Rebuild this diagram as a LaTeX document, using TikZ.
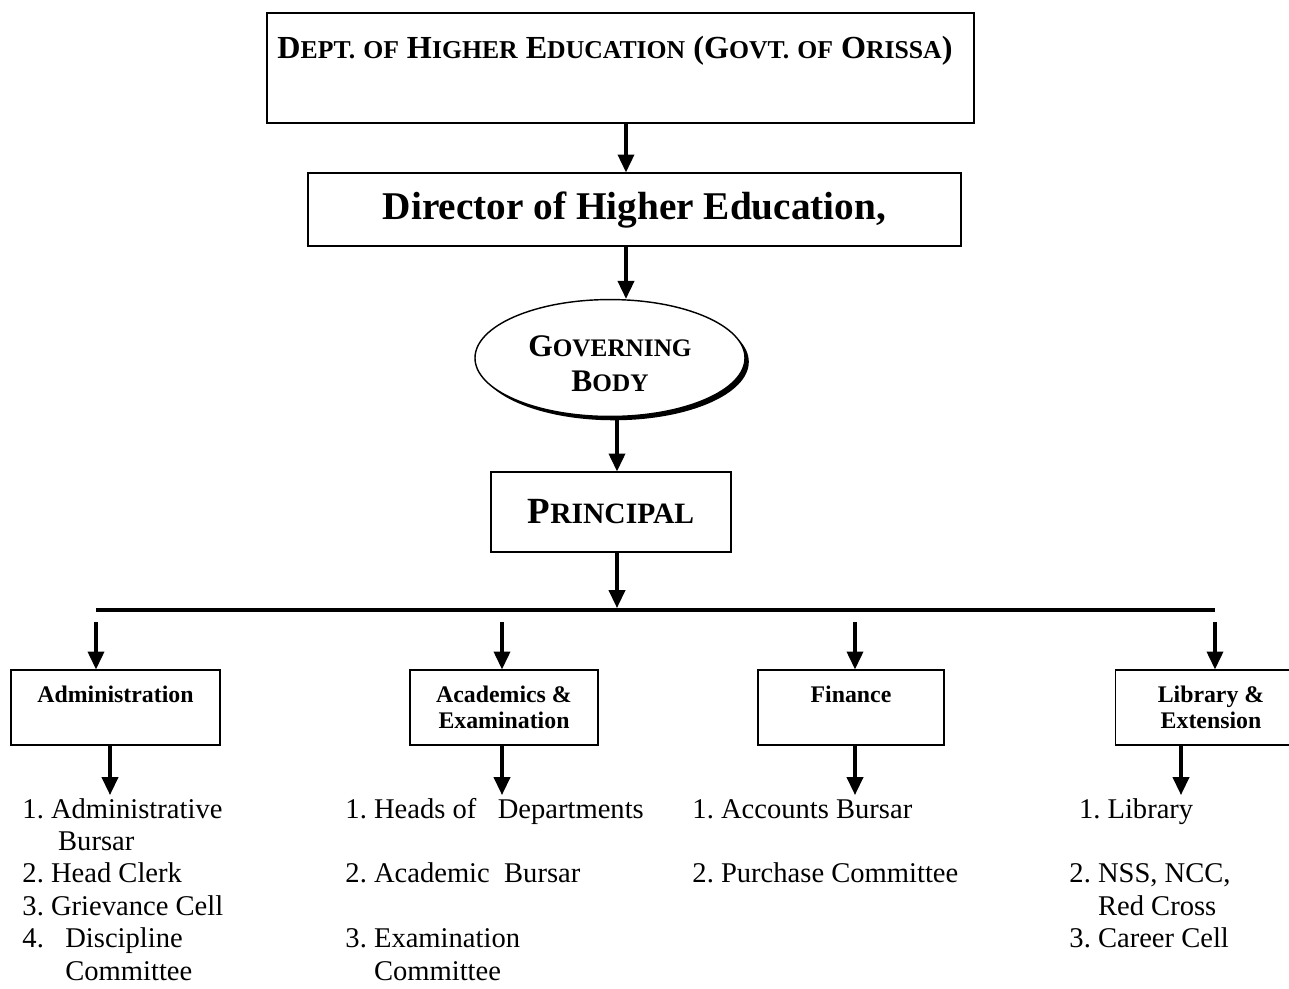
\documentclass[tikz,border=0pt]{standalone}
\usepackage{fontspec}
\setmainfont{Liberation Serif}
\usetikzlibrary{arrows.meta,shapes.geometric,shadows}
\frenchspacing

% small capitals: lower case letters set in a smaller size
\newcommand\lc[1]{{\fontsize{\lcsize}{\lcsize}\selectfont #1}}
\def\lcsize{10}

\begin{document}
\begin{tikzpicture}[x=0.42pt,y=-0.42pt,
    box/.style={draw,line width=0.5pt,inner sep=0pt},
    unit/.style={box,minimum height=31.5pt,align=center,
      font=\bfseries\fontsize{10}{11.2}\selectfont},
    arr/.style={line width=1.3pt,-{Triangle[length=7.5pt,width=6.8pt]}},
    duties/.style={anchor=north west,inner sep=0pt,align=left,
      font=\fontsize{12}{13.6}\selectfont}]
  \useasboundingbox (0,0) rectangle (1289,989);
  \clip (0,0) rectangle (1289,989);

  \node[box,line width=0.8pt,minimum width=296.9pt,minimum height=46.2pt]
    (dept) at (620.5,68) {};
  \node[anchor=base west,inner sep=0pt,
    font=\bfseries\fontsize{13.5}{16}\selectfont\def\lcsize{10.8}]
    (depttext) at (277,58)
    {D\lc{EPT.} \lc{OF} H\lc{IGHER} E\lc{DUCATION} (G\lc{OVT.} \lc{OF} O\lc{RISSA})};

  \node[box,minimum width=274.3pt,minimum height=30.7pt,
    font=\bfseries\fontsize{16.5}{19}\selectfont]
    (dir) at (634.5,209.5) {Director of Higher Education,};

  \node[ellipse,draw,line width=0.6pt,fill=white,inner sep=0pt,
    minimum width=113.4pt,minimum height=49.1pt,
    drop shadow={shadow xshift=1.6pt,shadow yshift=-1.6pt,opacity=1,fill=black},
    align=center,font=\bfseries\fontsize{13.2}{14.7}\selectfont\def\lcsize{10.6}]
    (gb) at (610,358) {\rule{0pt}{13.5pt}G\lc{OVERNING}\\B\lc{ODY}};

  \node[box,minimum width=100.8pt,minimum height=33.6pt,
    font=\bfseries\fontsize{15.5}{18}\selectfont\def\lcsize{12.4}]
    (prin) at (611,512) {P\lc{RINCIPAL}};

  \coordinate (a1) at (626,0);
  \coordinate (a2) at (617,0);
  \draw[arr] (dept.south -| a1) -- (dir.north -| a1);
  \draw[arr] (dir.south -| a1) -- (gb.north -| a1);
  \draw[arr] (gb.south -| a2) -- (prin.north -| a2);

  % the bar and the four sections below it
  \coordinate (busL) at (96,610);
  \coordinate (busR) at (1215,610);
  \coordinate (busP) at (617,608);
  \draw[line width=1.6pt] (busL) -- (busR);
  \draw[arr] (prin.south -| busP) -- (busP);

  \node[unit,minimum width=87.8pt] (admin) at (115.5,707.5) {Administration\\~};
  \node[unit,minimum width=79pt] (acad) at (504,707.5) {Academics \&\\Examination};
  \node[unit,minimum width=78.1pt] (fin) at (851,707.5) {Finance\\~};
  \node[unit,minimum width=80pt] (lib) at (1211,707.5) {Library \&\\Extension};

  \coordinate (d1) at (96,622);
  \coordinate (d2) at (502,622);
  \coordinate (d3) at (855,622);
  \coordinate (d4) at (1215,622);
  \draw[arr] (d1) -- (admin.north -| d1);
  \draw[arr] (d2) -- (acad.north -| d2);
  \draw[arr] (d3) -- (fin.north -| d3);
  \draw[arr] (d4) -- (lib.north -| d4);

  \node[duties] (admlist) at (22,795)
    {\strut 1. Administrative\\ \hspace*{15pt}Bursar\\ 2. Head Clerk\\
     3. Grievance Cell\\ 4.\hspace*{9pt}Discipline\\ \hspace*{18pt}Committee};
  \node[duties] (acalist) at (345,795)
    {\strut 1. Heads of\ \ \ Departments\\ ~\\ 2. Academic\ \ Bursar\\ ~\\
     3. Examination\\ \hspace*{12pt}Committee};
  \node[duties] (finlist) at (692,795)
    {\strut 1. Accounts Bursar\\ ~\\ 2. Purchase Committee};
  \node[duties] (liblist) at (1069,795)
    {\strut\hspace*{4pt}1. Library\\ ~\\ 2. NSS, NCC,\\ \hspace*{12pt}Red Cross\\
     3. Career Cell};

  \coordinate (u1) at (110,0);
  \coordinate (u4) at (1181,0);
  \draw[arr] (admin.south -| u1) -- (admlist.north -| u1);
  \draw[arr] (acad.south -| d2) -- (acalist.north -| d2);
  \draw[arr] (fin.south -| d3) -- (finlist.north -| d3);
  \draw[arr] (lib.south -| u4) -- (liblist.north -| u4);
\end{tikzpicture}
\end{document}
